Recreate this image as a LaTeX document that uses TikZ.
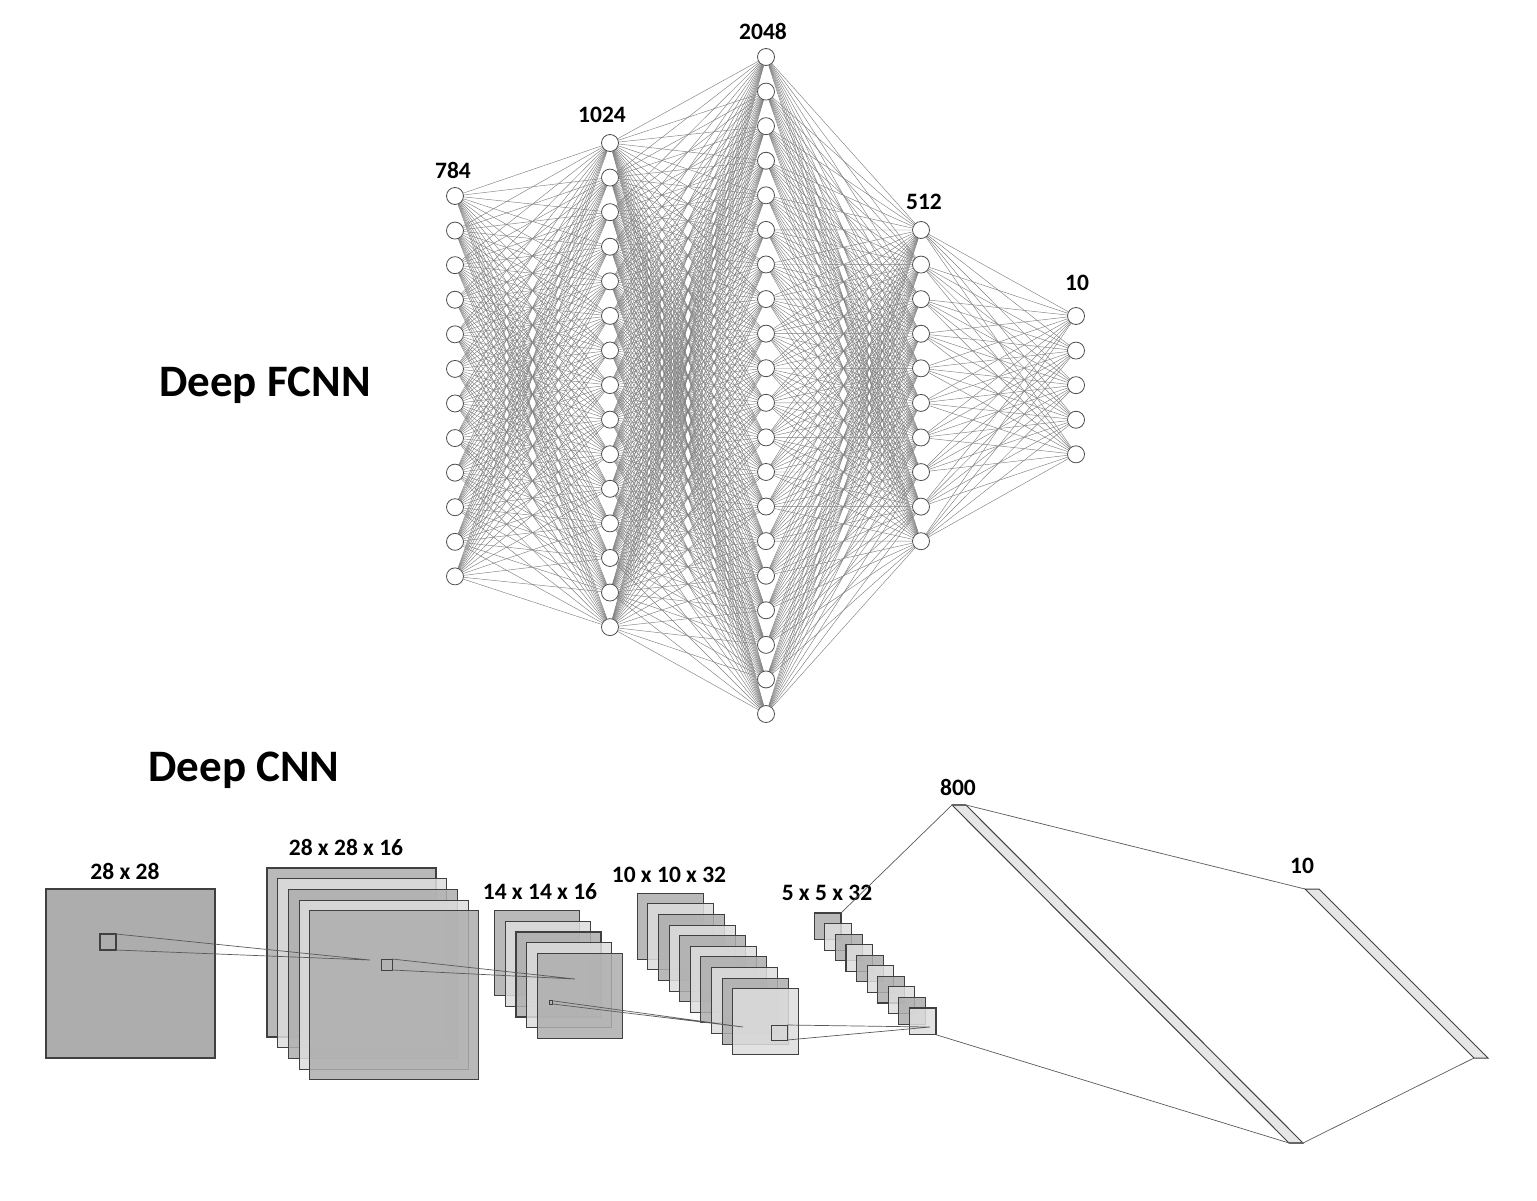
\documentclass[tikz,border=0pt]{standalone}
\usepackage{fontspec}
\setmainfont{Carlito}
\usetikzlibrary{backgrounds}
\definecolor{dk}{HTML}{ADADAD}
\definecolor{lt}{HTML}{DDDDDD}
\definecolor{bar}{HTML}{E6E6E6}
\begin{document}
\begin{tikzpicture}[x=1pt,y=-1pt,
  neuron/.style={circle,draw=black!70,line width=0.8pt,fill=white,minimum size=17pt,inner sep=0pt},
  edge/.style={draw=black!50,line width=0.45pt},
  lab/.style={font=\fontsize{23.5}{23.5}\selectfont\bfseries,inner sep=0pt},
  title/.style={font=\fontsize{45}{45}\selectfont\bfseries,inner sep=0pt},
  sq/.style={draw=black!75,line width=1.1pt},
  stk/.style={draw=black!75,line width=1.1pt,fill opacity=0.85,draw opacity=1},
  conn/.style={draw=black!65,line width=0.7pt}]
\useasboundingbox (0,0) rectangle (1537,1200);
% ---------- FCNN ----------
\foreach \l/\x/\y/\n in {1/455/196/12,2/610/143/15,3/766/57/20,4/921/230/10,5/1076/316/5}{
  \foreach \i in {1,...,\n}{
    \node[neuron] (n\l-\i) at (\x,{\y+(\i-1)*34.58}) {};
  }
}
\begin{pgfonlayer}{background}
\foreach \a/\na/\b/\nb in {1/12/2/15,2/15/3/20,3/20/4/10,4/10/5/5}{
  \foreach \i in {1,...,\na}{
    \foreach \j in {1,...,\nb}{
      \draw[edge] (n\a-\i) -- (n\b-\j);
    }
  }
}
\end{pgfonlayer}
\node[lab] (l784) at (453,170) {784};
\node[lab] (l1024) at (602,115) {1024};
\node[lab] (l2048) at (763,31) {2048};
\node[lab] (l512) at (924,202) {512};
\node[lab] (l10a) at (1077,283) {10};
\node[title] (t1) at (265,385) {Deep FCNN};
\node[title] (t2) at (244,770) {Deep CNN};
% ---------- CNN ----------
\draw[sq,fill=dk] (46,889) rectangle (215,1058);
\draw[sq,fill=dk] (100,934) rectangle (116,950);
\coordinate (s1a) at (116,934);
\coordinate (s1b) at (116,950);
\node[lab] (c28) at (125,871) {28 x 28};
% stack 1
\foreach \k/\c in {0/dk,1/lt,2/dk,3/lt,4/dk}{
  \draw[stk,fill=\c] ({267+\k*10.7},{868+\k*10.7}) rectangle ++(169,169);
}
\coordinate (p1) at (370,960);
\draw[conn] (s1a) -- (p1) -- (s1b);
\draw[sq,line width=0.9pt] (381,959) rectangle (392,970);
\coordinate (s2a) at (392,959);
\coordinate (s2b) at (392,970);
\node[lab] (c2816) at (346,847) {28 x 28 x 16};
% stack 2
\foreach \k/\c in {0/dk,1/lt,2/dk,3/lt,4/dk}{
  \draw[stk,fill=\c] ({494.7+\k*10.65},{910.7+\k*10.65}) rectangle ++(85,85);
}
\coordinate (p2) at (575,979);
\draw[conn] (s2a) -- (p2) -- (s2b);
\draw[sq,line width=0.7pt] (549.3,1000.8) rectangle (552.7,1004);
\coordinate (s3a) at (552.7,1000.8);
\coordinate (s3b) at (552.7,1004);
\node[lab] (c1416) at (540,892) {14 x 14 x 16};
% stack 3
\foreach \k/\c in {0/dk,1/lt,2/dk,3/lt,4/dk,5/lt,6/dk,7/lt,8/dk,9/lt}{
  \draw[stk,fill=\c] ({637.3+\k*10.6},{893.3+\k*10.6}) rectangle ++(66,66);
}
\coordinate (p3) at (743,1027);
\draw[conn] (s3a) -- (p3) -- (s3b);
\draw[sq,line width=0.9pt] (771,1025) rectangle (787,1040);
\coordinate (s4a) at (787,1025);
\coordinate (s4b) at (787,1040);
\node[lab] (c1032) at (669,875) {10 x 10 x 32};
% stack 4
\foreach \k/\c in {0/dk,1/lt,2/dk,3/lt,4/dk,5/lt,6/dk,7/lt,8/dk,9/lt}{
  \draw[stk,fill=\c] ({814.3+\k*10.55},{913+\k*10.55}) rectangle ++(26.7,26.7);
}
\coordinate (p4) at (930,1027);
\draw[conn] (s4a) -- (p4) -- (s4b);
\node[lab] (c532) at (827,893) {5 x 5 x 32};
\coordinate (f1) at (841,913);
\coordinate (f2) at (936,1034.7);
% 800 bar
\coordinate (a1) at (952,805);
\coordinate (a2) at (966,805);
\coordinate (a3) at (1303,1143);
\coordinate (a4) at (1289,1143);
\draw[sq,fill=bar,line width=1pt] (a1) -- (a2) -- (a3) -- (a4) -- cycle;
\draw[black!60,line width=1.6pt] (a1) -- (a2);
\draw[black!60,line width=1.6pt] (a4) -- (a3);
\node[lab] (c800) at (958,787) {800};
% 10 bar
\coordinate (b1) at (1305,889);
\coordinate (b2) at (1319,889);
\coordinate (b3) at (1488,1058);
\coordinate (b4) at (1474,1058);
\draw[sq,fill=bar,line width=1pt] (b1) -- (b2) -- (b3) -- (b4) -- cycle;
\node[lab] (c10) at (1302,866) {10};
% connectors to dense layers
\draw[conn] (f1) -- (a1);
\draw[conn] (f2) -- (a4);
\draw[conn] (a2) -- (b1);
\draw[conn] (a3) -- (b4);
\end{tikzpicture}
\end{document}
